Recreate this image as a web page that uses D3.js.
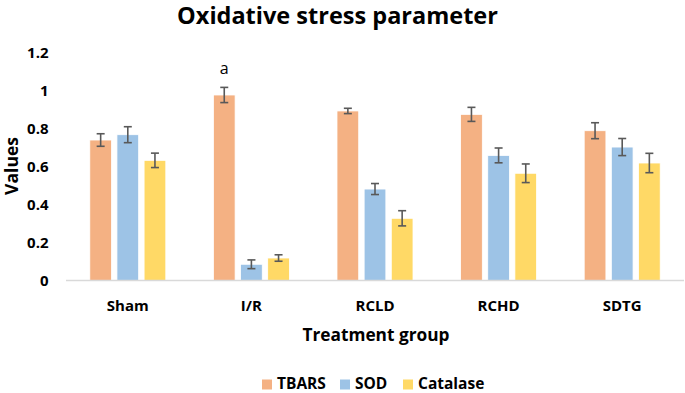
<!DOCTYPE html>
<html><head><meta charset="utf-8">
<script src="https://cdn.jsdelivr.net/npm/d3@7"></script>
<style>html,body{margin:0;padding:0;background:#fff;} svg{display:block;font-family:"Open Sans",sans-serif;}</style>
</head><body>
<script>
const categories = ["Sham", "I/R", "RCLD", "RCHD", "SDTG"];
const seriesNames = ["TBARS", "SOD", "Catalase"];
const tbars = [0.742, 0.979, 0.895, 0.877, 0.791];
const sod = [0.770, 0.088, 0.484, 0.661, 0.705];
const catalase = [0.635, 0.121, 0.330, 0.567, 0.621];
const tbarsErr = [0.033, 0.040, 0.014, 0.037, 0.042];
const sodErr = [0.042, 0.023, 0.029, 0.039, 0.045];
const catalaseErr = [0.038, 0.017, 0.040, 0.049, 0.051];
const yTicks = [0, 0.2, 0.4, 0.6, 0.8, 1, 1.2];
const colors = ["#F4B183", "#9DC3E6", "#FFD966"];
const annotations = [{cat: "I/R", series: "TBARS", text: "a"}];

const W = 685, H = 393;
const svg = d3.select("body").append("svg").attr("width", W).attr("height", H);

const x0 = d3.scaleBand().domain(categories).range([66, 684]).paddingInner(0.385).paddingOuter(0.1925);
const x1 = d3.scaleBand().domain(seriesNames).range([0, x0.bandwidth()]).paddingInner(0.2).paddingOuter(0);
const y = d3.scaleLinear().domain([0, 1.2]).range([281, 53]);
const color = d3.scaleOrdinal().domain(seriesNames).range(colors);

const values = [tbars, sod, catalase];
const errs = [tbarsErr, sodErr, catalaseErr];
const data = [];
categories.forEach((c, i) => seriesNames.forEach((s, j) => data.push({c, s, v: values[j][i], e: errs[j][i]})));

// title
svg.append("text").attr("x", 337.5).attr("y", 24).attr("text-anchor", "middle")
  .attr("font-size", 23.5).attr("font-weight", "bold").attr("fill", "#000").text("Oxidative stress parameter");

// y axis ticks (no line)
const yAxis = d3.axisLeft(y).tickValues(yTicks).tickSize(0).tickPadding(0)
  .tickFormat(d => d3.format("")(+d.toFixed(1)));
const ya = svg.append("g").attr("transform", "translate(48.5,0)").call(yAxis);
ya.select(".domain").remove();
ya.selectAll("text").attr("font-size", 15).attr("font-weight", "bold").attr("fill", "#000").attr("font-family", "Open Sans");

// bars
svg.append("g").selectAll("rect").data(data).join("rect")
  .attr("x", d => x0(d.c) + x1(d.s))
  .attr("y", d => y(d.v))
  .attr("width", x1.bandwidth())
  .attr("height", d => y(0) - y(d.v))
  .attr("fill", d => color(d.s))
  .attr("stroke", "#fff").attr("stroke-width", 0.8);

// baseline
svg.append("line").attr("x1", 66).attr("x2", 684).attr("y1", y(0) - 0.5).attr("y2", y(0) - 0.5)
  .attr("stroke", "#d9d9d9").attr("stroke-width", 1.3);

// error bars
const eg = svg.append("g").attr("stroke", "#595959").attr("stroke-width", 1.6);
data.forEach(d => {
  const cx = x0(d.c) + x1(d.s) + x1.bandwidth() / 2;
  eg.append("line").attr("x1", cx).attr("x2", cx).attr("y1", y(d.v + d.e)).attr("y2", y(d.v - d.e));
  eg.append("line").attr("x1", cx - 4).attr("x2", cx + 4).attr("y1", y(d.v + d.e)).attr("y2", y(d.v + d.e));
  eg.append("line").attr("x1", cx - 4).attr("x2", cx + 4).attr("y1", y(d.v - d.e)).attr("y2", y(d.v - d.e));
});

// annotation
annotations.forEach(a => {
  svg.append("text").attr("x", x0(a.cat) + x1(a.series) + x1.bandwidth() / 2)
    .attr("y", 74).attr("text-anchor", "middle").attr("font-size", 16).attr("fill", "#000").text(a.text);
});

// x axis labels
const xAxis = d3.axisBottom(x0).tickSize(0).tickPadding(0);
const xa = svg.append("g").attr("transform", "translate(0,311)").call(xAxis);
xa.select(".domain").remove();
xa.selectAll("text").attr("dy", 0).attr("font-size", 15).attr("font-weight", "bold").attr("fill", "#000").attr("font-family", "Open Sans");

// axis titles
svg.append("text").attr("x", 376).attr("y", 341).attr("text-anchor", "middle")
  .attr("font-size", 17.3).attr("font-weight", "bold").text("Treatment group");
svg.append("text").attr("transform", "translate(18,166) rotate(-90)").attr("text-anchor", "middle")
  .attr("font-size", 17.5).attr("font-weight", "bold").text("Values");

// legend
const legX = [262, 340, 403];
const lg = svg.append("g");
seriesNames.forEach((s, j) => {
  lg.append("rect").attr("x", legX[j]).attr("y", 379.5).attr("width", 10).attr("height", 10).attr("fill", color(s));
  lg.append("text").attr("x", legX[j] + 15).attr("y", 389).attr("font-size", 15.5).attr("font-weight", "bold").text(s);
});
</script>
</body></html>
